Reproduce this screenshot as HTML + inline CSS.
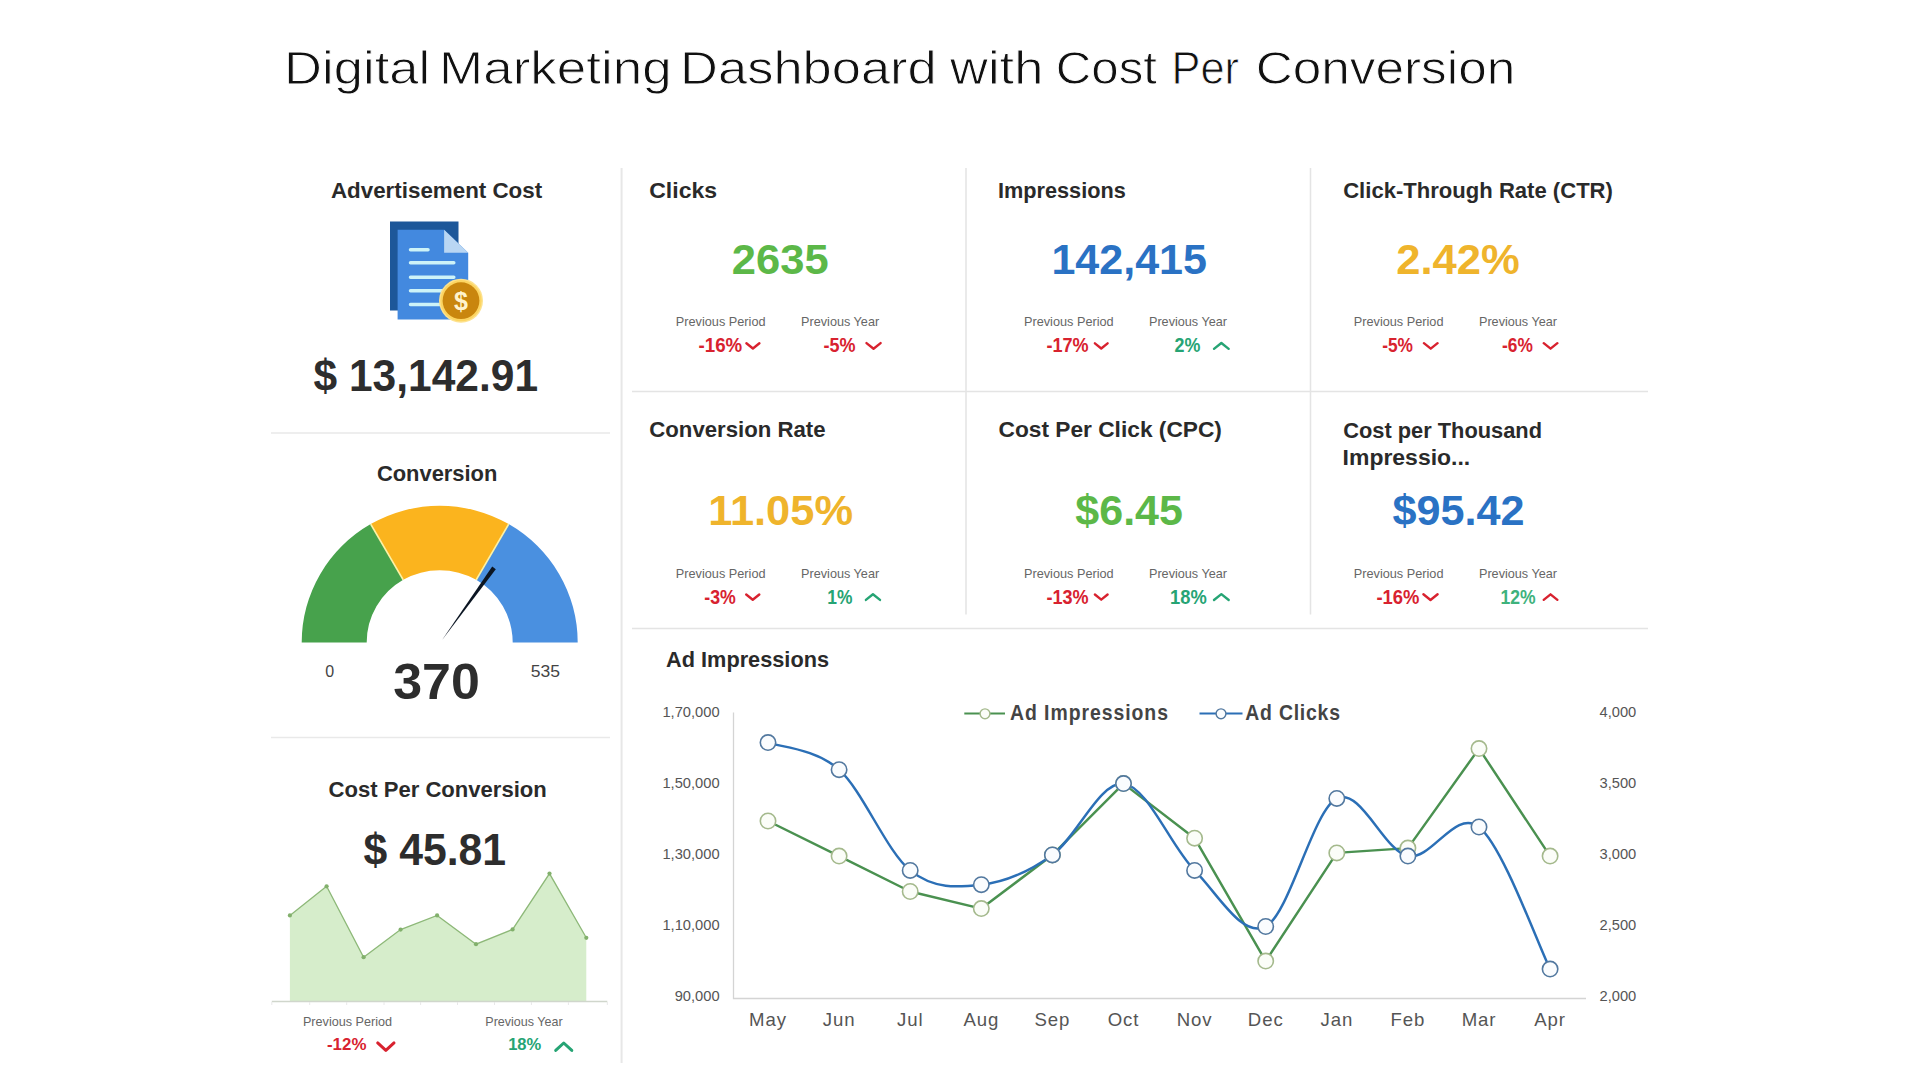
<!DOCTYPE html>
<html lang="en"><head><meta charset="utf-8"><title>Digital Marketing Dashboard with Cost Per Conversion</title>
<style>
html,body{margin:0;padding:0;background:#fff;}
body{width:1920px;height:1080px;overflow:hidden;}
svg{display:block;font-family:"Liberation Sans",sans-serif;}
</style></head><body>
<svg width="1920" height="1080" viewBox="0 0 1920 1080">
<rect width="1920" height="1080" fill="#fff"/>
<g stroke="#e4e4e4" stroke-width="1.5" fill="none">
<path d="M966 168V614.5M1310.5 168V614.5M632 391.5H1648M632 628.5H1648"/>
<path d="M621.6 168V1063" stroke-width="2" stroke="#e7e7e7"/>
<path d="M271 433H610M271 737.5H610" stroke="#e9e9e9"/>
</g>
<text y="84" font-size="47" fill="#111" stroke="#fff" stroke-width="0.9"><tspan x="284.11" textLength="146.06" lengthAdjust="spacingAndGlyphs">Digital</tspan> <tspan x="439.07" textLength="232.59" lengthAdjust="spacingAndGlyphs">Marketing</tspan> <tspan x="680.12" textLength="256.59" lengthAdjust="spacingAndGlyphs">Dashboard</tspan> <tspan x="950.14" textLength="93.15" lengthAdjust="spacingAndGlyphs">with</tspan> <tspan x="1055.81" textLength="101.16" lengthAdjust="spacingAndGlyphs">Cost</tspan> <tspan x="1171.54" textLength="67.47" lengthAdjust="spacingAndGlyphs">Per</tspan> <tspan x="1255.71" textLength="259.54" lengthAdjust="spacingAndGlyphs">Conversion</tspan></text>
<text x="330.98" y="198" font-size="21.5" font-weight="bold" fill="#2a2a2a" textLength="211.13" lengthAdjust="spacingAndGlyphs">Advertisement Cost</text>
<g>
<rect x="390" y="221.5" width="68.5" height="89" fill="#1d5799"/>
<path d="M397.6 229.8H444.1L468.2 252.7V319.6H397.6Z" fill="#4389df"/>
<path d="M444.1 229.8L468.2 252.7H444.1Z" fill="#b9d6f3"/>
<g stroke="#cdf3f8" stroke-width="3.5" stroke-linecap="round" fill="none"><path d="M410.5 249.8H428M410.5 262.8H453.8M410.5 277.3H453.8M410.5 290.7H453.8M410.5 304.5H453.8"/></g>
<circle cx="461" cy="300.7" r="22" fill="#fde28f"/><circle cx="461" cy="300.7" r="20.6" fill="#fcd562"/>
<circle cx="461" cy="300.7" r="18.4" fill="#c9860e"/>
<text x="461" y="309.6" font-size="25" font-weight="bold" fill="#fff3cc" text-anchor="middle">$</text>
</g>
<text x="313.53" y="390.7" font-size="45" font-weight="bold" fill="#2d2d2d" textLength="224.51" lengthAdjust="spacingAndGlyphs">$ 13,142.91</text>
<g transform="translate(0 642.5) scale(1 0.991) translate(0 -642.8)">
<path d="M301.7 642.8A138 138 0 0 1 370.7 523.3L403.2 579.6A73 73 0 0 0 366.7 642.8Z" fill="#47a24c"/>
<path d="M370.7 523.3A138 138 0 0 1 508.7 523.3L476.2 579.6A73 73 0 0 0 403.2 579.6Z" fill="#fbb41e"/>
<path d="M508.7 523.3A138 138 0 0 1 577.7 642.8L512.7 642.8A73 73 0 0 0 476.2 579.6Z" fill="#4a90e0"/>
<path d="M370.7 523.3L403.2 579.6" stroke="#fdf1a4" stroke-width="1.7"/>
<path d="M508.7 523.3L476.2 579.6" stroke="#fdf1a4" stroke-width="1.7"/>
</g>
<path d="M441.9 640.2L492.2 566.6L495.8 569.2Z" fill="#0b1522"/>
<text x="376.91" y="480.6" font-size="21.5" font-weight="bold" fill="#2a2a2a" textLength="120.48" lengthAdjust="spacingAndGlyphs">Conversion</text>
<text x="325.3" y="677" font-size="16" fill="#444">0</text>
<text x="530.72" y="677" font-size="16" fill="#444" textLength="29.25" lengthAdjust="spacingAndGlyphs">535</text>
<text x="393.24" y="699.2" font-size="50.5" font-weight="bold" fill="#2d2d2d" textLength="86.62" lengthAdjust="spacingAndGlyphs">370</text>
<text x="328.6" y="797" font-size="21.5" font-weight="bold" fill="#2a2a2a" textLength="218.21" lengthAdjust="spacingAndGlyphs">Cost Per Conversion</text>
<text x="363.53" y="864.8" font-size="45" font-weight="bold" fill="#2d2d2d" textLength="142.56" lengthAdjust="spacingAndGlyphs">$ 45.81</text>
<path d="M289.9 915.4L326.6 886.3L363.6 957.2L400.6 929.6L437.1 915.4L476 944.2L512.6 929.4L549.5 873.6L586.3 937.8L586.3 1001L289.9 1001Z" fill="#d6edcb"/>
<path d="M289.9 915.4L326.6 886.3L363.6 957.2L400.6 929.6L437.1 915.4L476 944.2L512.6 929.4L549.5 873.6L586.3 937.8" fill="none" stroke="#8db878" stroke-width="1.3"/>
<circle cx="289.9" cy="915.4" r="2.1" fill="#82b06c"/>
<circle cx="326.6" cy="886.3" r="2.1" fill="#82b06c"/>
<circle cx="363.6" cy="957.2" r="2.1" fill="#82b06c"/>
<circle cx="400.6" cy="929.6" r="2.1" fill="#82b06c"/>
<circle cx="437.1" cy="915.4" r="2.1" fill="#82b06c"/>
<circle cx="476" cy="944.2" r="2.1" fill="#82b06c"/>
<circle cx="512.6" cy="929.4" r="2.1" fill="#82b06c"/>
<circle cx="549.5" cy="873.6" r="2.1" fill="#82b06c"/>
<circle cx="586.3" cy="937.8" r="2.1" fill="#82b06c"/>
<path d="M271.8 1001.5H607.3" stroke="#d0d6cc" stroke-width="1.5"/>
<path d="M271.8 1002V1005M309.7 1002V1005M346.7 1002V1005M384 1002V1005M420.6 1002V1005M457.5 1002V1005M494.5 1002V1005M531.4 1002V1005M568.4 1002V1005M607.3 1002V1005" stroke="#e8e8e8" stroke-width="1"/>
<text x="302.95" y="1026.2" font-size="13.2" fill="#666" textLength="89.2" lengthAdjust="spacingAndGlyphs">Previous Period</text>
<text x="485.35" y="1026.2" font-size="13.2" fill="#666" textLength="77.28" lengthAdjust="spacingAndGlyphs">Previous Year</text>
<text x="326.98" y="1049.8" font-size="17" font-weight="bold" fill="#d8222f" textLength="39.43" lengthAdjust="spacingAndGlyphs">-12%</text>
<path d="M377.7 1042.951L385.85 1050.449L394.0 1042.951" fill="none" stroke="#d8222f" stroke-width="3.0" stroke-linecap="round" stroke-linejoin="round"/>
<text x="508.13" y="1049.8" font-size="17" font-weight="bold" fill="#26a474" textLength="33.06" lengthAdjust="spacingAndGlyphs">18%</text>
<path d="M555.6999999999999 1050.403L563.75 1042.997L571.8000000000001 1050.403" fill="none" stroke="#26a474" stroke-width="3.0" stroke-linecap="round" stroke-linejoin="round"/>
<text x="649.26" y="198" font-size="21.5" font-weight="bold" fill="#2a2a2a" textLength="67.84" lengthAdjust="spacingAndGlyphs">Clicks</text>
<text x="998.01" y="198" font-size="21.5" font-weight="bold" fill="#2a2a2a" textLength="127.78" lengthAdjust="spacingAndGlyphs">Impressions</text>
<text x="1343.2" y="198" font-size="21.5" font-weight="bold" fill="#2a2a2a" textLength="269.74" lengthAdjust="spacingAndGlyphs">Click-Through Rate (CTR)</text>
<text x="649.3" y="436.6" font-size="21.5" font-weight="bold" fill="#2a2a2a" textLength="176.24" lengthAdjust="spacingAndGlyphs">Conversion Rate</text>
<text x="998.48" y="436.6" font-size="21.5" font-weight="bold" fill="#2a2a2a" textLength="223.47" lengthAdjust="spacingAndGlyphs">Cost Per Click (CPC)</text>
<text x="1343.21" y="438.3" font-size="21.5" font-weight="bold" fill="#2a2a2a" textLength="198.8" lengthAdjust="spacingAndGlyphs">Cost per Thousand</text>
<text x="1342.63" y="464.9" font-size="21.5" font-weight="bold" fill="#2a2a2a" textLength="127.55" lengthAdjust="spacingAndGlyphs">Impressio...</text>
<text x="731.88" y="273.6" font-size="42" font-weight="bold" fill="#5cb848" textLength="96.83" lengthAdjust="spacingAndGlyphs">2635</text>
<text x="1051.41" y="273.6" font-size="42" font-weight="bold" fill="#2a72c4" textLength="155.59" lengthAdjust="spacingAndGlyphs">142,415</text>
<text x="1396.27" y="273.6" font-size="42" font-weight="bold" fill="#efb42c" textLength="123.46" lengthAdjust="spacingAndGlyphs">2.42%</text>
<text x="708.19" y="525.2" font-size="42" font-weight="bold" fill="#efb42c" textLength="144.79" lengthAdjust="spacingAndGlyphs">11.05%</text>
<text x="1075.29" y="525.2" font-size="42" font-weight="bold" fill="#5cb848" textLength="107.65" lengthAdjust="spacingAndGlyphs">$6.45</text>
<text x="1392.49" y="525.2" font-size="42" font-weight="bold" fill="#2a72c4" textLength="132.05" lengthAdjust="spacingAndGlyphs">$95.42</text>
<text x="675.85" y="326.3" font-size="13.4" fill="#666" textLength="89.71" lengthAdjust="spacingAndGlyphs">Previous Period</text>
<text x="1023.95" y="326.3" font-size="13.4" fill="#666" textLength="89.71" lengthAdjust="spacingAndGlyphs">Previous Period</text>
<text x="1353.75" y="326.3" font-size="13.4" fill="#666" textLength="89.71" lengthAdjust="spacingAndGlyphs">Previous Period</text>
<text x="801.05" y="326.3" font-size="13.4" fill="#666" textLength="78.1" lengthAdjust="spacingAndGlyphs">Previous Year</text>
<text x="1148.95" y="326.3" font-size="13.4" fill="#666" textLength="78.1" lengthAdjust="spacingAndGlyphs">Previous Year</text>
<text x="1478.95" y="326.3" font-size="13.4" fill="#666" textLength="78.1" lengthAdjust="spacingAndGlyphs">Previous Year</text>
<text x="675.85" y="578" font-size="13.4" fill="#666" textLength="89.71" lengthAdjust="spacingAndGlyphs">Previous Period</text>
<text x="1023.95" y="578" font-size="13.4" fill="#666" textLength="89.71" lengthAdjust="spacingAndGlyphs">Previous Period</text>
<text x="1353.75" y="578" font-size="13.4" fill="#666" textLength="89.71" lengthAdjust="spacingAndGlyphs">Previous Period</text>
<text x="801.05" y="578" font-size="13.4" fill="#666" textLength="78.1" lengthAdjust="spacingAndGlyphs">Previous Year</text>
<text x="1148.95" y="578" font-size="13.4" fill="#666" textLength="78.1" lengthAdjust="spacingAndGlyphs">Previous Year</text>
<text x="1478.95" y="578" font-size="13.4" fill="#666" textLength="78.1" lengthAdjust="spacingAndGlyphs">Previous Year</text>
<text x="698.51" y="352.4" font-size="20.5" font-weight="bold" fill="#d8222f" textLength="43.72" lengthAdjust="spacingAndGlyphs">-16%</text>
<path d="M746.4 343.29999999999995L752.9 348.5L759.4 343.29999999999995" fill="none" stroke="#d8222f" stroke-width="2.4" stroke-linecap="round" stroke-linejoin="round"/>
<text x="823.54" y="352.4" font-size="20.5" font-weight="bold" fill="#d8222f" textLength="32.06" lengthAdjust="spacingAndGlyphs">-5%</text>
<path d="M866.5 343.08L873.55 348.71999999999997L880.6 343.08" fill="none" stroke="#d8222f" stroke-width="2.4" stroke-linecap="round" stroke-linejoin="round"/>
<text x="1046.44" y="352.4" font-size="20.5" font-weight="bold" fill="#d8222f" textLength="42.18" lengthAdjust="spacingAndGlyphs">-17%</text>
<path d="M1094.9 343.36L1101.25 348.43999999999994L1107.6 343.36" fill="none" stroke="#d8222f" stroke-width="2.4" stroke-linecap="round" stroke-linejoin="round"/>
<text x="1174.45" y="352.4" font-size="20.5" font-weight="bold" fill="#26a474" textLength="25.89" lengthAdjust="spacingAndGlyphs">2%</text>
<path d="M1214.0000000000002 348.8399999999999L1221.35 342.96000000000004L1228.6999999999998 348.8399999999999" fill="none" stroke="#26a474" stroke-width="2.4" stroke-linecap="round" stroke-linejoin="round"/>
<text x="1382.17" y="352.4" font-size="20.5" font-weight="bold" fill="#d8222f" textLength="30.82" lengthAdjust="spacingAndGlyphs">-5%</text>
<path d="M1423.9 343.16L1430.75 348.63999999999993L1437.6 343.16" fill="none" stroke="#d8222f" stroke-width="2.4" stroke-linecap="round" stroke-linejoin="round"/>
<text x="1502.07" y="352.4" font-size="20.5" font-weight="bold" fill="#d8222f" textLength="30.82" lengthAdjust="spacingAndGlyphs">-6%</text>
<path d="M1543.7 343.16L1550.55 348.63999999999993L1557.3999999999999 343.16" fill="none" stroke="#d8222f" stroke-width="2.4" stroke-linecap="round" stroke-linejoin="round"/>
<text x="704.25" y="603.6" font-size="20.5" font-weight="bold" fill="#d8222f" textLength="31.54" lengthAdjust="spacingAndGlyphs">-3%</text>
<path d="M746.2 594.48L752.75 599.72L759.3 594.48" fill="none" stroke="#d8222f" stroke-width="2.4" stroke-linecap="round" stroke-linejoin="round"/>
<text x="827.34" y="603.6" font-size="20.5" font-weight="bold" fill="#26a474" textLength="25.19" lengthAdjust="spacingAndGlyphs">1%</text>
<path d="M865.9 599.9200000000001L872.95 594.28L880.0 599.9200000000001" fill="none" stroke="#26a474" stroke-width="2.4" stroke-linecap="round" stroke-linejoin="round"/>
<text x="1046.44" y="603.6" font-size="20.5" font-weight="bold" fill="#d8222f" textLength="42.18" lengthAdjust="spacingAndGlyphs">-13%</text>
<path d="M1094.9 594.5600000000001L1101.25 599.64L1107.6 594.5600000000001" fill="none" stroke="#d8222f" stroke-width="2.4" stroke-linecap="round" stroke-linejoin="round"/>
<text x="1170.08" y="603.6" font-size="20.5" font-weight="bold" fill="#26a474" textLength="36.69" lengthAdjust="spacingAndGlyphs">18%</text>
<path d="M1214.0000000000002 600.04L1221.35 594.1600000000001L1228.6999999999998 600.04" fill="none" stroke="#26a474" stroke-width="2.4" stroke-linecap="round" stroke-linejoin="round"/>
<text x="1376.43" y="603.6" font-size="20.5" font-weight="bold" fill="#d8222f" textLength="43.01" lengthAdjust="spacingAndGlyphs">-16%</text>
<path d="M1423.4 594.2600000000001L1430.5 599.9399999999999L1437.6 594.2600000000001" fill="none" stroke="#d8222f" stroke-width="2.4" stroke-linecap="round" stroke-linejoin="round"/>
<text x="1500.53" y="603.6" font-size="20.5" font-weight="bold" fill="#3eb27c" textLength="35.12" lengthAdjust="spacingAndGlyphs">12%</text>
<path d="M1543.7 599.84L1550.55 594.36L1557.3999999999999 599.84" fill="none" stroke="#d8222f" stroke-width="2.4" stroke-linecap="round" stroke-linejoin="round"/>
<text x="666.1" y="666.6" font-size="21.5" font-weight="bold" fill="#2a2a2a" textLength="162.9" lengthAdjust="spacingAndGlyphs">Ad Impressions</text>
<path d="M733.5 712.5V998.5H1586" fill="none" stroke="#d4d4d4" stroke-width="1.3"/>
<text x="719.6" y="717.1" font-size="14.7" fill="#555" text-anchor="end">1,70,000</text>
<text x="719.6" y="788.1" font-size="14.7" fill="#555" text-anchor="end">1,50,000</text>
<text x="719.6" y="859.1" font-size="14.7" fill="#555" text-anchor="end">1,30,000</text>
<text x="719.6" y="930.1" font-size="14.7" fill="#555" text-anchor="end">1,10,000</text>
<text x="719.6" y="1001.1" font-size="14.7" fill="#555" text-anchor="end">90,000</text>
<text x="1599.5" y="717.1" font-size="14.7" fill="#555">4,000</text>
<text x="1599.5" y="788.1" font-size="14.7" fill="#555">3,500</text>
<text x="1599.5" y="859.1" font-size="14.7" fill="#555">3,000</text>
<text x="1599.5" y="930.1" font-size="14.7" fill="#555">2,500</text>
<text x="1599.5" y="1001.1" font-size="14.7" fill="#555">2,000</text>
<text x="768.0" y="1026" font-size="18.6" fill="#555" text-anchor="middle" letter-spacing="0.9">May</text>
<text x="839.1" y="1026" font-size="18.6" fill="#555" text-anchor="middle" letter-spacing="0.9">Jun</text>
<text x="910.2" y="1026" font-size="18.6" fill="#555" text-anchor="middle" letter-spacing="0.9">Jul</text>
<text x="981.3" y="1026" font-size="18.6" fill="#555" text-anchor="middle" letter-spacing="0.9">Aug</text>
<text x="1052.4" y="1026" font-size="18.6" fill="#555" text-anchor="middle" letter-spacing="0.9">Sep</text>
<text x="1123.5" y="1026" font-size="18.6" fill="#555" text-anchor="middle" letter-spacing="0.9">Oct</text>
<text x="1194.6" y="1026" font-size="18.6" fill="#555" text-anchor="middle" letter-spacing="0.9">Nov</text>
<text x="1265.7" y="1026" font-size="18.6" fill="#555" text-anchor="middle" letter-spacing="0.9">Dec</text>
<text x="1336.8" y="1026" font-size="18.6" fill="#555" text-anchor="middle" letter-spacing="0.9">Jan</text>
<text x="1407.9" y="1026" font-size="18.6" fill="#555" text-anchor="middle" letter-spacing="0.9">Feb</text>
<text x="1479.0" y="1026" font-size="18.6" fill="#555" text-anchor="middle" letter-spacing="0.9">Mar</text>
<text x="1550.1" y="1026" font-size="18.6" fill="#555" text-anchor="middle" letter-spacing="0.9">Apr</text>
<path d="M768.0 821L839.1 856.1L910.2 891.5L981.3 908.6L1052.4 854.9L1123.5 783.6L1194.6 838.2L1265.7 961.1L1336.8 852.9L1407.9 848.1L1479.0 748.6L1550.1 856.1" fill="none" stroke="#4a9150" stroke-width="2.45" stroke-linejoin="round"/>
<path d="M768.0 742.6C779.9 747.1 815.4 748.4 839.1 769.7C862.8 791.0 886.5 851.2 910.2 870.4C933.9 889.6 957.6 887.3 981.3 884.7C1005.0 882.1 1028.7 871.8 1052.4 854.9C1076.1 838.0 1099.8 781.0 1123.5 783.6C1147.2 786.2 1170.9 846.6 1194.6 870.4C1218.3 894.2 1242.0 938.5 1265.7 926.5C1289.4 914.5 1313.1 810.1 1336.8 798.4C1360.5 786.7 1384.2 851.3 1407.9 856.1C1431.6 860.9 1455.3 808.2 1479.0 827.0C1502.7 845.8 1538.2 945.4 1550.1 969.1" fill="none" stroke="#2b6fb6" stroke-width="2.45"/>
<circle cx="768.0" cy="821" r="7.7" fill="#fbfdf8" stroke="#a4b98c" stroke-width="1.6"/>
<circle cx="839.1" cy="856.1" r="7.7" fill="#fbfdf8" stroke="#a4b98c" stroke-width="1.6"/>
<circle cx="910.2" cy="891.5" r="7.7" fill="#fbfdf8" stroke="#a4b98c" stroke-width="1.6"/>
<circle cx="981.3" cy="908.6" r="7.7" fill="#fbfdf8" stroke="#a4b98c" stroke-width="1.6"/>
<circle cx="1052.4" cy="854.9" r="7.7" fill="#fbfdf8" stroke="#a4b98c" stroke-width="1.6"/>
<circle cx="1123.5" cy="783.6" r="7.7" fill="#fbfdf8" stroke="#a4b98c" stroke-width="1.6"/>
<circle cx="1194.6" cy="838.2" r="7.7" fill="#fbfdf8" stroke="#a4b98c" stroke-width="1.6"/>
<circle cx="1265.7" cy="961.1" r="7.7" fill="#fbfdf8" stroke="#a4b98c" stroke-width="1.6"/>
<circle cx="1336.8" cy="852.9" r="7.7" fill="#fbfdf8" stroke="#a4b98c" stroke-width="1.6"/>
<circle cx="1407.9" cy="848.1" r="7.7" fill="#fbfdf8" stroke="#a4b98c" stroke-width="1.6"/>
<circle cx="1479.0" cy="748.6" r="7.7" fill="#fbfdf8" stroke="#a4b98c" stroke-width="1.6"/>
<circle cx="1550.1" cy="856.1" r="7.7" fill="#fbfdf8" stroke="#a4b98c" stroke-width="1.6"/>
<circle cx="768.0" cy="742.6" r="7.7" fill="#fafcfe" stroke="#52789f" stroke-width="1.6"/>
<circle cx="839.1" cy="769.7" r="7.7" fill="#fafcfe" stroke="#52789f" stroke-width="1.6"/>
<circle cx="910.2" cy="870.4" r="7.7" fill="#fafcfe" stroke="#52789f" stroke-width="1.6"/>
<circle cx="981.3" cy="884.7" r="7.7" fill="#fafcfe" stroke="#52789f" stroke-width="1.6"/>
<circle cx="1052.4" cy="854.9" r="7.7" fill="#fafcfe" stroke="#52789f" stroke-width="1.6"/>
<circle cx="1123.5" cy="783.6" r="7.7" fill="#fafcfe" stroke="#52789f" stroke-width="1.6"/>
<circle cx="1194.6" cy="870.4" r="7.7" fill="#fafcfe" stroke="#52789f" stroke-width="1.6"/>
<circle cx="1265.7" cy="926.5" r="7.7" fill="#fafcfe" stroke="#52789f" stroke-width="1.6"/>
<circle cx="1336.8" cy="798.4" r="7.7" fill="#fafcfe" stroke="#52789f" stroke-width="1.6"/>
<circle cx="1407.9" cy="856.1" r="7.7" fill="#fafcfe" stroke="#52789f" stroke-width="1.6"/>
<circle cx="1479.0" cy="827" r="7.7" fill="#fafcfe" stroke="#52789f" stroke-width="1.6"/>
<circle cx="1550.1" cy="969.1" r="7.7" fill="#fafcfe" stroke="#52789f" stroke-width="1.6"/>
<path d="M964.3 713.6H1005" stroke="#4a9150" stroke-width="2"/><circle cx="985" cy="713.8" r="4.9" fill="#fbfdf8" stroke="#a4b98c" stroke-width="1.4"/>
<text transform="translate(1010 720.4) scale(0.86 1)" font-size="22.6" font-weight="bold" fill="#444" textLength="183.7" lengthAdjust="spacing">Ad Impressions</text>
<path d="M1199.5 713.6H1242.5" stroke="#2b6fb6" stroke-width="2"/><circle cx="1221" cy="713.8" r="4.9" fill="#fafcfe" stroke="#52789f" stroke-width="1.4"/>
<text transform="translate(1245.3 720.4) scale(0.86 1)" font-size="22.6" font-weight="bold" fill="#444" textLength="110.1" lengthAdjust="spacing">Ad Clicks</text>
</svg>
</body></html>
